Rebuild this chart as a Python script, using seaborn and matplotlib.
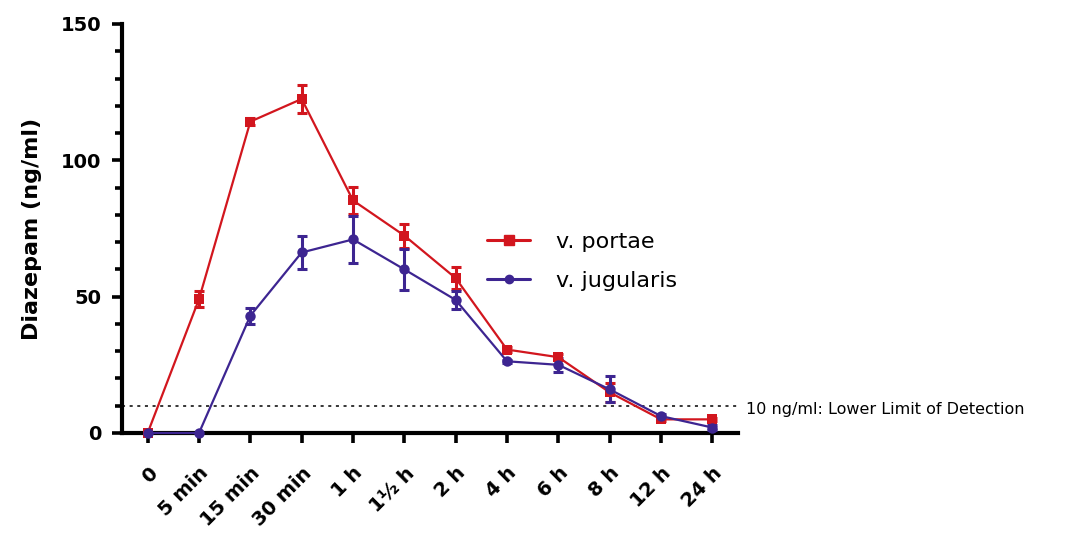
import matplotlib
matplotlib.use("Agg")
import matplotlib.pyplot as plt
import matplotlib.transforms as mtransforms
import seaborn as sns
import pandas as pd
from matplotlib.ticker import MultipleLocator
from matplotlib.lines import Line2D

categories = ["0", "5 min", "15 min", "30 min", "1 h", "1½ h", "2 h", "4 h", "6 h", "8 h", "12 h", "24 h"]
portae_mean = [0, 49.1, 114.2, 122.5, 85.3, 72.4, 56.8, 30.6, 27.8, 14.9, 5.0, 5.0]
portae_err = [0, 3.0, 1.2, 5.0, 5.0, 4.4, 4.0, 1.0, 1.2, 3.4, 0.5, 0.5]
jugularis_mean = [0, 0, 43.0, 66.2, 71.0, 60.0, 48.8, 26.3, 25.0, 16.0, 6.2, 2.0]
jugularis_err = [0, 0, 3.0, 6.1, 8.7, 7.6, 3.4, 0.6, 2.5, 4.8, 0.6, 1.0]
series_names = ["v. portae", "v. jugularis"]
lod_value = 10
lod_label = "10 ng/ml: Lower Limit of Detection"
y_label = "Diazepam (ng/ml)"

RED = "#D2161E"
PURPLE = "#3D2591"

sns.set_theme(style="ticks")
plt.rcParams["font.family"] = ["DejaVu Sans"]
for key in ["text.color", "axes.labelcolor", "xtick.color", "ytick.color", "axes.edgecolor"]:
    plt.rcParams[key] = "black"

df = pd.DataFrame({
    "pos": list(range(len(categories))) * 2,
    "value": portae_mean + jugularis_mean,
    "err": portae_err + jugularis_err,
    "series": [series_names[0]] * len(categories) + [series_names[1]] * len(categories),
})

fig = plt.figure(figsize=(10.77, 5.33), dpi=100)
ax = fig.add_axes([122 / 1077, 1 - 433 / 533, 616 / 1077, 409 / 533])

palette = {series_names[0]: RED, series_names[1]: PURPLE}
markers = {series_names[0]: "s", series_names[1]: "o"}

sns.lineplot(data=df, x="pos", y="value", hue="series", style="series",
             palette=palette, markers=markers, dashes=False, markersize=7.5,
             markeredgewidth=0, linewidth=1.6, legend=False, ax=ax, zorder=4,
             clip_on=False)

for name, col in palette.items():
    sub = df[df["series"] == name]
    mask = sub["err"] > 0
    ax.errorbar(sub["pos"][mask], sub["value"][mask], yerr=sub["err"][mask],
                fmt="none", ecolor=col, elinewidth=2.2, capsize=3.3, capthick=2.2,
                zorder=3, clip_on=False)

ax.axhline(lod_value, color="black", linestyle=(0, (2, 3)), linewidth=1.1, zorder=1)
ax.annotate(lod_label, xy=(1.0, lod_value), xycoords=("axes fraction", "data"),
            xytext=(6, -3), textcoords="offset points", ha="left", va="center",
            fontsize=11.5, color="black")

ax.set_xlim(-0.5, 11.5)
ax.set_ylim(0, 150)
ax.set_xticks(range(len(categories)))
ax.set_xticklabels(categories, rotation=45, ha="right", rotation_mode="anchor",
                   fontsize=14, fontweight="bold")
shift = mtransforms.ScaledTranslation(-4 / 72, 0, fig.dpi_scale_trans)
for lbl in ax.get_xticklabels():
    lbl.set_transform(lbl.get_transform() + shift)
ax.yaxis.set_major_locator(MultipleLocator(50))
ax.yaxis.set_minor_locator(MultipleLocator(10))
for lbl in ax.get_yticklabels():
    lbl.set_fontweight("bold")
    lbl.set_fontsize(14)
ax.tick_params(axis="both", which="major", length=7, width=2.6, color="black")
ax.tick_params(axis="y", which="major", pad=8)
ax.tick_params(axis="y", which="minor", length=5, width=2.6, color="black")
ax.tick_params(axis="x", pad=15)
ax.set_xlabel("")
ax.set_ylabel(y_label, fontsize=16, fontweight="bold", labelpad=13)

for s in ["top", "right"]:
    ax.spines[s].set_visible(False)
for s in ["left", "bottom"]:
    ax.spines[s].set_linewidth(3)
    ax.spines[s].set_color("black")
ax.set_facecolor("white")

handles = [
    Line2D([0], [0], color=RED, marker="s", markersize=6.5, linewidth=2.2),
    Line2D([0], [0], color=PURPLE, marker="o", markersize=6, linewidth=2.2),
]
fig.legend(handles, series_names, loc="upper left", bbox_to_anchor=(467 / 1077, 1 - 212 / 533),
           frameon=False, fontsize=16, handlelength=1.95, labelspacing=0.85, handletextpad=1.15)

fig.savefig("out.png", dpi=100, facecolor="white")
